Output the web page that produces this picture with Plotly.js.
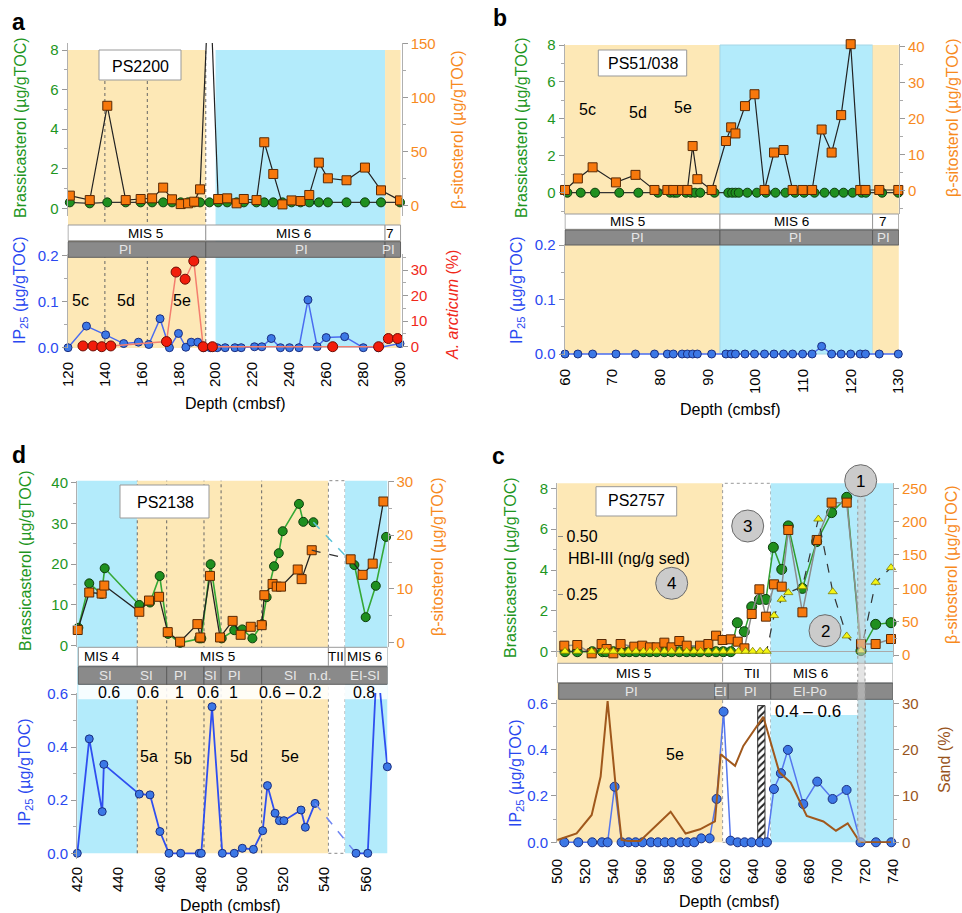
<!DOCTYPE html>
<html><head><meta charset="utf-8">
<script src="https://cdn.plot.ly/plotly-3.0.1.min.js"></script>
<style>html,body{margin:0;padding:0;background:#fff}#chart{width:962px;height:913px}</style>
</head><body><div id="chart"></div>
<script>
// ================= DATA =================
// Panel a : PS2200
const aDepth = [121,131.8,141.3,151.3,159.4,165.6,171.6,176.4,181.1,185.1,188.4,191.6,196.7,201.4,206.3,211.4,215.3,222.2,226.4,231.3,236.3,241.2,246.1,250.8,256.0,260.9,271.0,281.0,289.7,300];
const aBrassica = [0.3,0.25,0.3,0.3,0.3,0.3,0.3,0.3,0.3,0.3,0.3,0.3,0.3,0.3,0.3,0.3,0.3,0.3,0.3,0.3,0.3,0.3,0.3,0.3,0.3,0.3,0.3,0.3,0.3,0.3];
const aBeta = [9.3,5.2,92.3,5.2,6.2,6.8,16.7,5.9,1.5,2.2,3.7,15.1,220,6.2,6.8,2.2,6.2,5.2,58.6,29.3,1.2,4.9,4.3,9.9,39.8,25.3,23.5,35.2,14.2,4.9];
const aIPDepth = [120,130,140.4,150.2,158.2,163.8,169.9,175,179.9,183.9,186.8,190.4,193.6,197.2,200.9,205.2,210.5,213.9,221.1,225.1,230.2,235.2,240.1,245.2,250.1,255.1,260,270,280.1,288.2,300];
const aIP25 = [0,0.047,0.028,0.009,0.012,0.007,0.063,0,0.031,0.001,0.012,0.012,0,0,0,0,0,0,0.002,0.002,0.02,0,0,0,0.104,0.002,0.022,0.024,0,0,0.009];
const aArcDepth = [128.1,133.6,138.3,143.2,173.4,178.6,183.5,188.2,193.3,198.3,263.5,288.4,293.7,298.7];
const aArcticum = [0.3,0.3,0,0.3,2,29.2,26.4,33.5,0,0,0,0,3.2,3.2];

// Panel b : PS51/038
const bGreenDepth = [60.5,63.3,66.3,71.4,75.4,79.5,82.1,82.9,83.5,85.4,86.4,87.3,88.4,91.4,94.3,95.1,95.8,96.5,98.3,100.3,102.2,104.2,106.3,108.3,110.2,112.4,114.5,116.6,118.5,120.4,122.3,123.2,126.6,130];
const bBrassica = [0,0,0,0,0,0,0,0,0,0,0,0,0,0,0,0,0,0,0,0,0,0,0,0,0,0,0,0,0,0,0,0,0,0];
const bDepth = [60,62.7,65.8,70.7,74.8,78.8,81.5,82.75,84.6,85.7,86.8,87.8,90.8,93.8,94.9,95.8,97.8,99.8,101.9,103.9,105.9,107.8,109.9,111.9,113.9,116,118,120,122,123.1,126,130];
const bBeta = [0.2,3.4,6.5,2.3,4.4,0.2,0.2,0.2,0.2,0.2,12.4,3.2,0.2,13.8,17.6,15.9,23.5,26.8,0.2,10.6,11.3,0.2,0.2,0.2,17,10.6,21,40.7,0.2,0.2,0.2,0.2];
const bIP25 = [0,0,0,0,0,0,0,0,0,0,0,0,0,0,0,0,0,0,0,0,0,0,0,0,0.014,0,0,0,0,0,0,0];

// Panel d : PS2138
const dGreenDepth1 = [420.5,425.8,431.8,433.3,450.1,455.3,460,464,469.9,479.2,480.2,484.7,490.1,496.2,500.1,505,509.7,511.9,515.5,517.8,519.7,527.6,529.7,534.6];
const dGreen1 = [4.4,15.3,12.7,19.0,10.0,10.6,17.1,2.9,0.7,1.8,1.8,20.0,1.8,3.8,4.0,1.8,5.3,11.9,19.5,22.7,28.1,34.8,30.4,30.3];
const dGreenDepth2 = [554.5,560,564.9,569.9];
const dGreen2 = [19.8,7.0,14.7,26.7];
const dBetaDepth1 = [420.2,425.8,431.8,433.1,450.1,454.8,459.7,463.9,469.9,478.3,479.7,484.4,489.3,495.4,499.3,504.2,509.5,510.8,514.8,516.8,518.9,527,528.9,533.8];
const dBeta1 = [2.3,9.3,9.1,10.6,5.7,7.8,8.5,1.9,0.1,3.4,0.9,12.4,0.9,4.0,1.4,2.9,3.2,8.8,10.9,10.4,10.4,13.6,11.8,17.2];
const dBetaDepth2 = [552.7,558.5,563.4,568.6];
const dBeta2 = [15.5,12.6,14.7,26.3];
const dIPDepth1 = [420,425.8,432.1,432.9,450.1,455.3,460.1,464.5,470.2,479.2,480.2,485.4,490.4,496.2,500.1,505.5,510,512.3,516,518.1,520.3,528.6,530.7,535.4];
const dIP1 = [0,0.431,0.157,0.335,0.223,0.220,0.082,0,0,0,0,0.552,0,0,0.019,0.015,0.085,0.255,0.151,0.123,0.123,0.163,0.098,0.188];
const dIPDepth2 = [555.3,561,565.5,570.5];
const dIP2 = [0,0,0.73,0.326];

// Panel c : PS2757
const cGreenDepth = [505.5,514.3,525,532.4,534.8,540.1,547.2,551.5,556.3,561.6,566.3,571.1,576.6,581.8,587.3,592.6,597.3,602.1,608.1,613.6,618.8,624.1,628.8,633.8,639.1,644.6,649.3,654.6,660.6,665.3,675.4,685.6,696.3,707.1,717.3,727.8,738.8];
const cGreen = [0,0,0,0,0,0,0,0,0,0,0,0,0,0,0,0,0,0,0,0,0,0,1.42,0.98,2.2,2.56,2.56,5.11,4.03,6.16,3.1,5.39,6.81,7.56,0.05,1.34,1.42];
const cBetaDepth = [505,514.3,524.6,531.7,535.3,540.1,545.3,555.1,560.8,566.3,571.1,576.6,581.8,587.3,592.6,602.1,608.1,613.6,618.3,624.1,629.1,633.9,639.1,644.6,649.3,655.1,660.6,665.3,675.4,685.6,696.3,707.1,717.3,727.8,738.8];
const cBeta = [14,15,2.5,16.5,9,2.5,16.5,12.5,14,11.5,11.5,18.5,11.5,21,14,14,16.5,29,22.5,23.5,20,10,61.5,98.5,57.5,106,102.5,187.5,64,172.5,228.5,228.5,16.5,16.5,24];
const cHBIDepth = [505.5,514.3,524.6,532.4,535.3,540.1,546,550.8,556.3,561.6,566.3,571.1,576.6,581.8,587.3,592.6,597.8,602.6,608.1,613.6,618.8,624.1,629.6,634.8,639.8,645.1,649.8,655.1,660.6,665.3,675.4,686.8,697.1,707.1,717.3,727.8,738.8];
const cHBI = [0,0,0,0,0,0,0,0,0,0,0,0,0,0,0,0,0,0,0,0,0,0,0,0,0,0,0,0.156,0.227,0.256,0.282,0.577,0.26,0.067,0.003,0.301,0.365];
const cDepth = [505,515,525,532,536,541,546,551,556,561,567,572,577,582,588,593,598,603,609,614,619,624,629,634,639,645,650,655,660,665,676,686,697,707,717,728,739];
const cIP25 = [0,0,0,0,0,0.24,0,0,0,0,0,0,0,0,0,0,0,0.017,0.017,0.187,0.564,0.007,0,0,0,0,0,0.23,0.298,0.399,0.165,0.262,0.187,0.226,0,0,0];
const cSandDepth = [500,513.8,524.6,531,536,541.3,546,550.8,559.2,581.1,591.8,602.1,612.8,616.9,627.2,633.1,647.4,658.9,667,678.5,690.4,699.4,707.8,716.6,727.4,738.8];
const cSand = [0.5,1.9,5.9,14.2,30.5,13.6,0.5,0.3,0.3,6.6,1.9,2.8,4.5,19,16.5,20.8,27.1,15.1,12.9,5.7,4.5,2.5,4.1,0,0,0];
const cHatchDepth = [646];
const cHatchTop = [0.59];
const cHBITicks = [0.25, 0.5];
const cHBITickText = ['0.25', '0.50'];

// ================= HELPERS =================
const W = 962, H = 913;
const F = 'Liberation Sans, Arial, Helvetica, sans-serif';
const GR = '#1e961e', OR = '#f78a1e', BL = '#2a48f0', RD = '#f0281a', BR = '#98541c';
const YEL = '#fde8b6', BLU = '#b3ebfb';
function ydom(t, b) { return [1 - b / H, 1 - t / H]; }
function cal(t, b, v1, p1, v2, p2) { const s = (v2 - v1) / (p2 - p1); return [v1 + (b - p1) * s, v1 + (t - p1) * s]; }
function calx(l, r, v1, p1, v2, p2) { const s = (v2 - v1) / (p2 - p1); return [v1 + (l - p1) * s, v1 + (r - p1) * s]; }

const mGreen = {symbol:'circle', size:9, color:'#1f8f1f', line:{color:'#0d3d0d', width:1}};
const mOrange = {symbol:'square', size:9, color:'#f7780c', line:{color:'#5a2a05', width:1}};
const mBlue = {symbol:'circle', size:8, color:'#3c78e6', line:{color:'#1a2e80', width:1}};
const mRed = {symbol:'circle', size:10, color:'#f21d0b', line:{color:'#6e0d04', width:1}};
const mTri = {symbol:'triangle-up', size:8, color:'#f4f414', line:{color:'#7d7d00', width:0.8}};

function S(x, y, xa, ya, o) {
  return Object.assign({type:'scatter', x:x, y:y, xaxis:xa, yaxis:ya, mode:'lines+markers',
    hoverinfo:'skip', showlegend:false, cliponaxis:false}, o);
}
function last(a) { return a[a.length - 1]; }
const dIP2inX = dIPDepth2.filter((d, i) => dIP2[i] <= 0.6);
const dIP2inY = dIP2.filter(v => v <= 0.6);

// ================= TRACES =================
const traces = [
  // a
  S(aDepth, aBrassica, 'x', 'y', {line:{color:'#333', width:1.2}, marker:mGreen}),
  S(aDepth, aBeta, 'x', 'y2', {line:{color:'#222', width:1.2}, marker:mOrange, cliponaxis:true}),
  S(aIPDepth, aIP25, 'x', 'y3', {line:{color:'#4a6cf0', width:1.5}, marker:mBlue}),
  S(aArcDepth, aArcticum, 'x', 'y4', {line:{color:'#f47e6e', width:1.5}, marker:mRed}),
  // b
  S(bGreenDepth, bBrassica, 'x2', 'y5', {line:{color:'#333', width:1.2}, marker:mGreen}),
  S(bDepth, bBeta, 'x2', 'y6', {line:{color:'#222', width:1.2}, marker:mOrange}),
  S(bDepth, bIP25, 'x2', 'y7', {line:{color:'#4a6cf0', width:1.5}, marker:mBlue}),
  // d
  S(dGreenDepth1, dGreen1, 'x3', 'y8', {line:{color:'#35a835', width:1.6}, marker:mGreen}),
  S([last(dGreenDepth1), dGreenDepth2[0]], [last(dGreen1), dGreen2[0]], 'x3', 'y8', {mode:'lines', line:{color:'#5cc4d8', width:1.5, dash:'dash'}}),
  S(dGreenDepth2, dGreen2, 'x3', 'y8', {line:{color:'#35a835', width:1.6}, marker:mGreen}),
  S(dBetaDepth1, dBeta1, 'x3', 'y9', {line:{color:'#222', width:1.3}, marker:mOrange}),
  S([last(dBetaDepth1), dBetaDepth2[0]], [last(dBeta1), dBeta2[0]], 'x3', 'y9', {mode:'lines', line:{color:'#333', width:1.3, dash:'dash'}}),
  S(dBetaDepth2, dBeta2, 'x3', 'y9', {line:{color:'#222', width:1.3}, marker:mOrange}),
  S(dIPDepth1, dIP1, 'x3', 'y10', {line:{color:'#2f4ff0', width:1.8}, marker:mBlue}),
  S([last(dIPDepth1), dIPDepth2[0]], [last(dIP1), dIPDepth2.length ? dIP2[0] : 0], 'x3', 'y10', {mode:'lines', line:{color:'#6f86f2', width:1.5, dash:'dash'}}),
  S(dIPDepth2, dIP2, 'x3', 'y10', {mode:'lines', line:{color:'#2f4ff0', width:1.8}, cliponaxis:true}),
  S(dIP2inX, dIP2inY, 'x3', 'y10', {mode:'markers', marker:mBlue}),
  // c
  S(cGreenDepth, cGreen, 'x4', 'y11', {line:{color:'#2f9e2f', width:1.5}, marker:Object.assign({}, mGreen, {size:10})}),
  S(cBetaDepth, cBeta, 'x4', 'y12', {line:{color:'#8c8c8c', width:1.5}, marker:mOrange}),
  S(cHBIDepth, cHBI, 'x4', 'y13', {line:{color:'#333', width:1.2, dash:'dash'}, marker:mTri}),
  {type:'bar', x:cHatchDepth, y:cHatchTop, width:[5.2], xaxis:'x4', yaxis:'y14', hoverinfo:'skip', showlegend:false,
   marker:{color:'#ffffff', line:{color:'#333', width:1}, pattern:{shape:'/', fgcolor:'#222', bgcolor:'#fff', size:5, solidity:0.4}}},
  S(cDepth, cIP25, 'x4', 'y14', {line:{color:'#5577ee', width:1.5}, marker:Object.assign({}, mBlue, {size:9})}),
  S(cSandDepth, cSand, 'x4', 'y15', {mode:'lines', line:{color:'#a0581c', width:2}})
];

// ================= AXES =================
function yax(o, col) {
  return Object.assign({showgrid:false, zeroline:false, showline:true, linecolor:'#b0b0b0', linewidth:1,
    ticks:'outside', ticklen:5, tickwidth:1, tickcolor:'#999', fixedrange:true,
    tickfont:{family:F, size:15, color:col}}, o);
}
function minor(d) { return {ticks:'outside', ticklen:3, tickcolor:'#aaa', dtick:d}; }
function xax(o) {
  return Object.assign({showgrid:false, zeroline:false, showline:false, ticks:'', tickangle:-90, tick0:0,
    fixedrange:true, tickfont:{family:F, size:15, color:'#000'}}, o);
}

const layout = {
  width:W, height:H, margin:{l:0, r:0, t:0, b:0}, paper_bgcolor:'#fff', plot_bgcolor:'rgba(0,0,0,0)',
  showlegend:false, hovermode:false, font:{family:F}, barmode:'overlay',
  // panel a
  xaxis: xax({domain:[67.5/W, 401.7/W], range:calx(67.5, 401.7, 120, 68, 300, 400), anchor:'y3', dtick:20, ticklabelstandoff:10}),
  yaxis: yax({domain:ydom(43, 216), range:cal(43, 216, 0, 208.3, 8, 50), anchor:'x', dtick:2, minor:minor(1)}, GR),
  yaxis2: yax({overlaying:'y', side:'right', anchor:'x', range:cal(43, 216, 0, 205.7, 150, 43.3), dtick:50, minor:minor(25)}, OR),
  yaxis3: yax({domain:ydom(254, 348), range:cal(254, 348, 0, 347.7, 0.2, 255.7), anchor:'x', dtick:0.1, tickformat:'.1f', minor:minor(0.05)}, BL),
  yaxis4: yax({overlaying:'y3', side:'right', anchor:'x', range:cal(254, 348, 0, 346.7, 30, 270), dtick:10, minor:minor(5)}, RD),
  // panel b
  xaxis2: xax({domain:[564.5/W, 899/W], range:calx(564.5, 899, 60, 565, 130, 898.3), anchor:'y7', dtick:10, ticklabelstandoff:10}),
  yaxis5: yax({domain:ydom(44, 214), range:cal(44, 214, 0, 192.7, 8, 45), anchor:'x2', dtick:2, minor:minor(1)}, GR),
  yaxis6: yax({overlaying:'y5', side:'right', anchor:'x2', range:cal(44, 214, 0, 190.7, 40, 46.7), dtick:10, minor:minor(5)}, OR),
  yaxis7: yax({domain:ydom(244, 355), range:cal(244, 355, 0, 354, 0.2, 245), anchor:'x2', dtick:0.1, tickformat:'.1f', minor:minor(0.05)}, BL),
  // panel d
  xaxis3: xax({domain:[77/W, 387.5/W], range:calx(77, 387.5, 420, 77.3, 560, 365.7), anchor:'y10', dtick:20, ticklabelstandoff:4}),
  yaxis8: yax({domain:ydom(480.7, 647), range:cal(480.7, 647, 0, 645.7, 40, 482.7), anchor:'x3', dtick:10, minor:minor(5)}, GR),
  yaxis9: yax({overlaying:'y8', side:'right', anchor:'x3', range:cal(480.7, 647, 0, 642.3, 30, 481.7), dtick:10, minor:minor(5)}, OR),
  yaxis10: yax({domain:ydom(693, 859), range:cal(693, 859, 0, 853.3, 0.6, 694), anchor:'x3', dtick:0.2, tickformat:'.1f', minor:minor(0.1)}, BL),
  // panel c
  xaxis4: xax({domain:[557/W, 893/W], range:calx(557, 893, 500, 557.3, 740, 892.7), anchor:'y14', dtick:20, ticklabelstandoff:12}),
  yaxis11: yax({domain:ydom(483.3, 657), range:cal(483.3, 657, 0, 651.7, 8, 488.3), anchor:'x4', dtick:2, minor:minor(1),
    zeroline:true, zerolinecolor:'#aaa', zerolinewidth:1}, GR),
  yaxis12: yax({overlaying:'y11', side:'right', anchor:'x4', range:cal(483.3, 657, 0, 655, 250, 488.3), dtick:50, minor:minor(25)}, OR),
  yaxis13: yax({overlaying:'y11', side:'right', anchor:'free', position:557.3/W, range:cal(483.3, 657, 0, 651.3, 0.5, 536.7),
    showline:false, ticks:'outside', ticklen:5, tickcolor:'#888', tickvals:cHBITicks, ticktext:cHBITickText,
    tickfont:{family:F, size:16, color:'#000'}}, '#000'),
  yaxis14: yax({domain:ydom(700, 843), range:cal(700, 843, 0, 842.3, 0.6, 703.3), anchor:'x4', dtick:0.2, tickformat:'.1f', minor:minor(0.1)}, BL),
  yaxis15: yax({overlaying:'y14', side:'right', anchor:'x4', range:cal(700, 843, 0, 842.3, 30, 703.3), dtick:10, minor:minor(5)}, BR)
};

// ================= SHAPES =================
const shapes = [];
function R(xr, x0, x1, p0, p1, fill, line, layer) {
  shapes.push({type:'rect', xref:xr, yref:'paper', x0:x0, x1:x1, y0:1 - p1 / H, y1:1 - p0 / H,
    fillcolor:fill, line:line || {width:0}, layer:layer || 'below'});
}
function PR(x0, x1, p0, p1, fill, line, layer) {
  shapes.push({type:'rect', xref:'paper', yref:'paper', x0:x0 / W, x1:x1 / W, y0:1 - p1 / H, y1:1 - p0 / H,
    fillcolor:fill, line:line || {width:0}, layer:layer || 'below'});
}
function VL(xr, x, p0, p1, col, dash) {
  shapes.push({type:'line', xref:xr, yref:'paper', x0:x, x1:x, y0:1 - p1 / H, y1:1 - p0 / H,
    line:{color:col || '#666', width:1, dash:dash || 'dot'}, layer:'below'});
}
function CIRC(cx, cy, r) {
  shapes.push({type:'circle', xref:'paper', yref:'paper', x0:(cx - r) / W, x1:(cx + r) / W, y0:1 - (cy + r) / H, y1:1 - (cy - r) / H,
    fillcolor:'#cbcbcb', line:{color:'#6a6a6a', width:1}, layer:'above'});
}
const wLine = {color:'#9a9a9a', width:1};
const gLine = {color:'#5e5e5e', width:1};
const GRAY = '#8a8a8a';

// panel a
R('x', 120, 194.7, 50, 348, YEL);
R('x', 200, 291.9, 50, 348, BLU);
R('x', 291.9, 300.3, 50, 348, YEL);
[140, 163, 194.7].forEach(v => VL('x', v, 50, 348));
[[120, 194.7], [194.7, 291.9], [291.9, 300.3]].forEach(s => R('x', s[0], s[1], 225, 240.7, '#fff', wLine));
[[120, 194.7], [194.7, 291.9], [291.9, 300.3]].forEach(s => R('x', s[0], s[1], 241.7, 257.3, GRAY, gLine));
PR(99, 181, 50, 80, '#fff', {color:'#999', width:1});

// panel b
R('x2', 60, 92.55, 45, 354, YEL);
R('x2', 92.55, 124.6, 45, 354, BLU, {color:'#a5d6e6', width:1});
R('x2', 124.6, 130.1, 45, 354, YEL);
[[60, 92.55], [92.55, 124.6], [124.6, 130.1]].forEach(s => R('x2', s[0], s[1], 214, 229.3, '#fff', wLine));
[[60, 92.55], [92.55, 124.6], [124.6, 130.1]].forEach(s => R('x2', s[0], s[1], 230, 245, GRAY, gLine));
PR(598.3, 686.7, 50, 76, '#fff', {color:'#999', width:1});

// panel d
R('x3', 420, 449.1, 480.7, 853.3, BLU);
R('x3', 449.1, 541.9, 480.7, 853.3, YEL);
R('x3', 541.9, 550, 480.7, 853.3, '#fff', {color:'#888', width:1, dash:'dot'});
R('x3', 550, 570.6, 480.7, 853.3, BLU);
[449.1, 463.4, 481.5, 489.8, 509.5].forEach(v => VL('x3', v, 480.7, 853.3));
[[420.5, 449.1], [449.1, 541.9], [541.9, 550], [550, 570.6]].forEach(s => R('x3', s[0], s[1], 647.3, 666, '#fff', wLine));
[[420.5, 463.4], [463.4, 481.5], [481.5, 489.8], [489.8, 509.5], [509.5, 570.6]].forEach(s => R('x3', s[0], s[1], 666.7, 684.3, GRAY, gLine));
R('x3', 420.5, 570.6, 685, 699.3, 'rgba(255,255,255,0.88)');
PR(120, 209, 485, 518, '#fff', {color:'#999', width:1});

// panel c
R('x4', 500, 618.3, 483.3, 842.3, YEL);
R('x4', 618.3, 652.7, 483.3, 842.3, '#fff', {color:'#999', width:1, dash:'dot'});
R('x4', 652.7, 740.2, 483.3, 842.3, BLU);
R('x4', 652.7, 715, 699.3, 715, '#fff');
[[500, 618.3], [618.3, 652.7], [652.7, 740.2]].forEach(s => R('x4', s[0], s[1], 663.3, 682.7, '#fff', wLine));
[[501, 612.8], [612.8, 622.3], [622.3, 652.7], [652.7, 740.2]].forEach(s => R('x4', s[0], s[1], 683.3, 699.3, GRAY, gLine));
PR(596, 676.7, 486.7, 516, '#fff', {color:'#999', width:1});
R('x4', 715, 720.2, 483.3, 842.3, 'rgba(205,205,205,0.55)', {color:'#999', width:1, dash:'dot'}, 'above');
CIRC(860.7, 480.7, 16); CIRC(825, 630.7, 16); CIRC(747.7, 526, 16); CIRC(671.7, 583.3, 16);
layout.shapes = shapes;

// ================= ANNOTATIONS =================
const ann = [];
function T(t, x, y, size, color, extra) {
  ann.push(Object.assign({text:t, x:x / W, y:1 - y / H, xref:'paper', yref:'paper', showarrow:false,
    xanchor:'center', yanchor:'middle', font:{family:F, size:size || 16, color:color || '#000'}}, extra || {}));
}
const rot = {textangle:-90};
const IPT = 'IP<sub>25</sub> (µg/gTOC)';
const BRT = 'Brassicasterol (µg/gTOC)';
const BST = 'β-sitosterol (µg/gTOC)';
const PIC = '#e6e6e6';

// a
T('<b>a</b>', 18, 22, 23);
T(BRT, 20, 128, 16, GR, rot); T(IPT, 20, 290, 16, BL, rot);
T(BST, 458, 130, 16, OR, rot); T('<i>A. arcticum</i> (%)', 452, 305, 16, RD, rot);
T('PS2200', 140, 66, 16);
T('MIS 5', 145.7, 233, 13.5); T('MIS 6', 293, 233, 13.5); T('7', 390, 233, 13.5);
T('PI', 125, 249.5, 13.5, PIC); T('PI', 301.7, 249.5, 13.5, PIC); T('PI', 388.3, 249.5, 13.5, PIC);
T('5c', 80, 301, 16); T('5d', 125.7, 301, 16); T('5e', 181.7, 301, 16);
T('Depth (cmbsf)', 235, 403, 16);

// b
T('<b>b</b>', 500, 18, 23);
T(BRT, 521, 128, 16, GR, rot); T(IPT, 517, 290, 16, BL, rot); T(BST, 952, 118, 16, OR, rot);
T('PS51/038', 642.5, 64, 16);
T('MIS 5', 627.7, 221.7, 13.5); T('MIS 6', 791.7, 221.7, 13.5); T('7', 883.3, 221.7, 13.5);
T('PI', 637.7, 237.5, 13.5, PIC); T('PI', 795, 237.5, 13.5, PIC); T('PI', 883.3, 237.5, 13.5, PIC);
T('5c', 587.7, 110, 16); T('5d', 638.3, 112, 16); T('5e', 682.7, 108, 16);
T('Depth (cmbsf)', 730, 409, 16);

// d
T('<b>d</b>', 19, 455, 23);
T(BRT, 25, 561, 16, GR, rot); T(IPT, 25, 772, 16, BL, rot); T(BST, 437, 557, 16, OR, rot);
T('PS2138', 165, 502, 16);
T('MIS 4', 101.7, 656.7, 13.5); T('MIS 5', 217.3, 656.7, 13.5); T('TII', 336, 656.7, 13.5); T('MIS 6', 364.3, 656.7, 13.5);
[['SI', 105], ['SI', 146.7], ['PI', 180], ['SI', 210.7], ['PI', 234], ['SI', 290], ['n.d.', 320], ['EI-SI', 365]].forEach(s => T(s[0], s[1], 675.5, 13.5, PIC));
[['0.6', 109], ['0.6', 147.7], ['1', 179.3], ['0.6', 208.3], ['1', 233.3], ['0.6 – 0.2', 290], ['0.8', 364.3]].forEach(s => T(s[0], s[1], 692.5, 16));
T('5a', 149.3, 756, 16); T('5b', 183.3, 758, 16); T('5d', 239, 756, 16); T('5e', 290, 756, 16);
T('Depth (cmbsf)', 230, 905, 16);

// c
T('<b>c</b>', 499, 456, 23);
T(BRT, 510, 568, 16, GR, rot); T(IPT, 516, 773, 16, BL, rot); T(BST, 951, 565, 16, OR, rot);
T('Sand (%)', 944, 760, 16, BR, rot);
T('PS2757', 636, 501, 16);
T('HBI-III (ng/g sed)', 566, 558.3, 16, '#000', {xanchor:'left'});
T('1', 860.7, 481, 17); T('2', 825, 631, 17); T('3', 747.7, 526.5, 17); T('4', 671.7, 583.8, 17);
T('MIS 5', 633.3, 673, 13.5); T('TII', 751.7, 673, 13.5); T('MIS 6', 810, 673, 13.5);
T('PI', 631.7, 691.3, 13.5, PIC); T('EI', 720.7, 691.3, 13.5, PIC); T('PI', 750.7, 691.3, 13.5, PIC); T('EI-Po', 810, 691.3, 13.5, PIC);
T('0.4 – 0.6', 808.3, 711, 17);
T('5e', 675, 754.3, 16);
T('Depth (cmbsf)', 728.7, 901.5, 16);
layout.annotations = ann;

Plotly.newPlot('chart', traces, layout, {staticPlot:true, displayModeBar:false});
</script>
</body></html>
